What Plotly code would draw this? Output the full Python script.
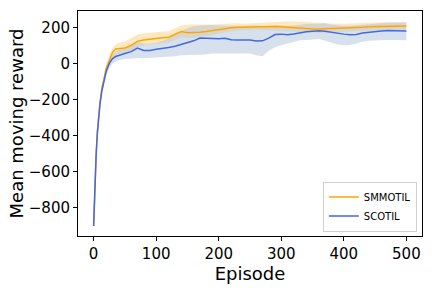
import plotly.graph_objects as go

episodes = [0, 2, 4, 6, 8, 10, 13, 16, 20, 25, 30, 35, 40, 50, 60, 70, 80, 90, 100,
            110, 120, 130, 140, 150, 160, 170, 180, 190, 200, 210, 220, 230, 240, 250,
            260, 270, 280, 290, 300, 310, 320, 330, 340, 350, 360, 370, 380, 390, 400,
            410, 420, 430, 440, 450, 460, 470, 480, 490, 500]

smmotil_mean = [-900, -640, -495, -375, -290, -218, -140, -85, -30, 15, 60, 80, 83, 85, 100,
                122, 130, 135, 138, 142, 145, 160, 176, 170, 170, 172, 176, 182, 188, 194,
                197, 200, 201, 203, 204, 204, 205, 204, 203, 200, 196, 194, 192, 191, 190,
                191, 192, 193, 194, 195, 197, 200, 203, 204, 205, 206, 206, 207, 207]
smmotil_low = [-900, -645, -502, -385, -302, -232, -158, -105, -55, -15, 30, 48, 55, 58, 70,
               90, 100, 105, 108, 112, 115, 130, 145, 140, 140, 145, 150, 158, 165, 172,
               178, 182, 184, 186, 186, 185, 183, 180, 178, 175, 172, 170, 168, 168, 168,
               170, 172, 173, 175, 177, 180, 182, 185, 187, 188, 188, 188, 188, 188]
smmotil_high = [-900, -635, -488, -365, -278, -204, -122, -65, -5, 40, 85, 105, 115, 120, 140,
                160, 165, 170, 172, 175, 180, 195, 210, 215, 215, 213, 212, 215, 218, 220,
                222, 222, 220, 222, 225, 228, 230, 232, 232, 232, 232, 230, 228, 226, 222,
                220, 220, 220, 220, 222, 224, 226, 228, 228, 228, 228, 228, 228, 228]

scotil_mean = [-900, -650, -505, -385, -300, -230, -155, -100, -45, 0, 25, 38, 45, 55, 65,
               85, 72, 72, 78, 82, 88, 95, 104, 112, 125, 140, 138, 135, 136, 139, 131,
               130, 130, 129, 124, 125, 140, 160, 162, 158, 163, 170, 175, 178, 181, 178,
               172, 165, 162, 158, 160, 168, 173, 176, 180, 182, 181, 180, 179]
scotil_low = [-900, -655, -512, -395, -312, -244, -172, -120, -70, -25, 0, 10, 18, 25, 28,
              30, 28, 30, 32, 35, 38, 40, 45, 45, 45, 48, 50, 55, 55, 55, 55, 52, 55, 55,
              45, 40, 70, 90, 100, 110, 120, 128, 130, 132, 135, 125, 115, 105, 100, 102,
              110, 120, 125, 128, 130, 130, 130, 130, 128]
scotil_high = [-900, -645, -498, -375, -288, -216, -138, -80, -20, 25, 50, 65, 75, 85, 100,
               120, 110, 110, 115, 125, 140, 160, 180, 195, 205, 210, 212, 212, 210, 210,
               208, 205, 205, 210, 210, 205, 205, 210, 210, 205, 210, 215, 218, 220, 222,
               222, 215, 210, 208, 208, 210, 215, 218, 220, 222, 225, 226, 226, 226]

y_ticks = [-800, -600, -400, -200, 0, 200]
y_tick_labels = ["\u2212800", "\u2212600", "\u2212400", "\u2212200", "0", "200"]
x_ticks = [0, 100, 200, 300, 400, 500]

FONT = "DejaVu Sans"

fig = go.Figure()


def band(x, lo, hi, color):
    fig.add_trace(go.Scatter(x=x, y=hi, mode="lines", line=dict(width=0),
                             showlegend=False, hoverinfo="skip"))
    fig.add_trace(go.Scatter(x=x, y=lo, mode="lines", line=dict(width=0),
                             fill="tonexty", fillcolor=color,
                             showlegend=False, hoverinfo="skip"))


band(episodes, smmotil_low, smmotil_high, "rgba(255,165,0,0.25)")
band(episodes, scotil_low, scotil_high, "rgba(176,196,222,0.5)")

fig.add_trace(go.Scatter(x=episodes, y=smmotil_mean, mode="lines", name="SMMOTIL",
                         line=dict(color="#FFA500", width=1.5)))
fig.add_trace(go.Scatter(x=episodes, y=scotil_mean, mode="lines", name="SCOTIL",
                         line=dict(color="#4169E1", width=1.5)))

fig.update_layout(
    width=432, height=288,
    margin=dict(l=78, r=10, t=11, b=52),
    paper_bgcolor="white", plot_bgcolor="white",
    font=dict(family=FONT, size=15, color="black"),
    legend=dict(x=0.985, y=0.02, xanchor="right", yanchor="bottom",
                traceorder="normal",
                bgcolor="rgba(255,255,255,0.8)", bordercolor="#d0d0d0", borderwidth=1,
                font=dict(size=10, family=FONT), itemwidth=30,
                tracegroupgap=0),
    showlegend=True,
)
fig.update_xaxes(range=[-25, 525], tickvals=x_ticks, showgrid=False, zeroline=False,
                 showline=True, linecolor="black", linewidth=1, mirror=True,
                 ticks="outside", ticklen=4, tickcolor="black", automargin=False,
                 title=dict(text="Episode", standoff=0), tickfont=dict(size=15))
fig.update_yaxes(range=[-955, 290], tickvals=y_ticks, ticktext=y_tick_labels,
                 showgrid=False, zeroline=False,
                 showline=True, linecolor="black", linewidth=1, mirror=True,
                 ticks="outside", ticklen=4, tickcolor="black", automargin=False,
                 title=dict(text="Mean moving reward", standoff=0), tickfont=dict(size=15))

fig.write_html("out.html", config={"displayModeBar": False},
               post_script="document.body.style.margin='0';document.body.style.overflow='hidden';")
